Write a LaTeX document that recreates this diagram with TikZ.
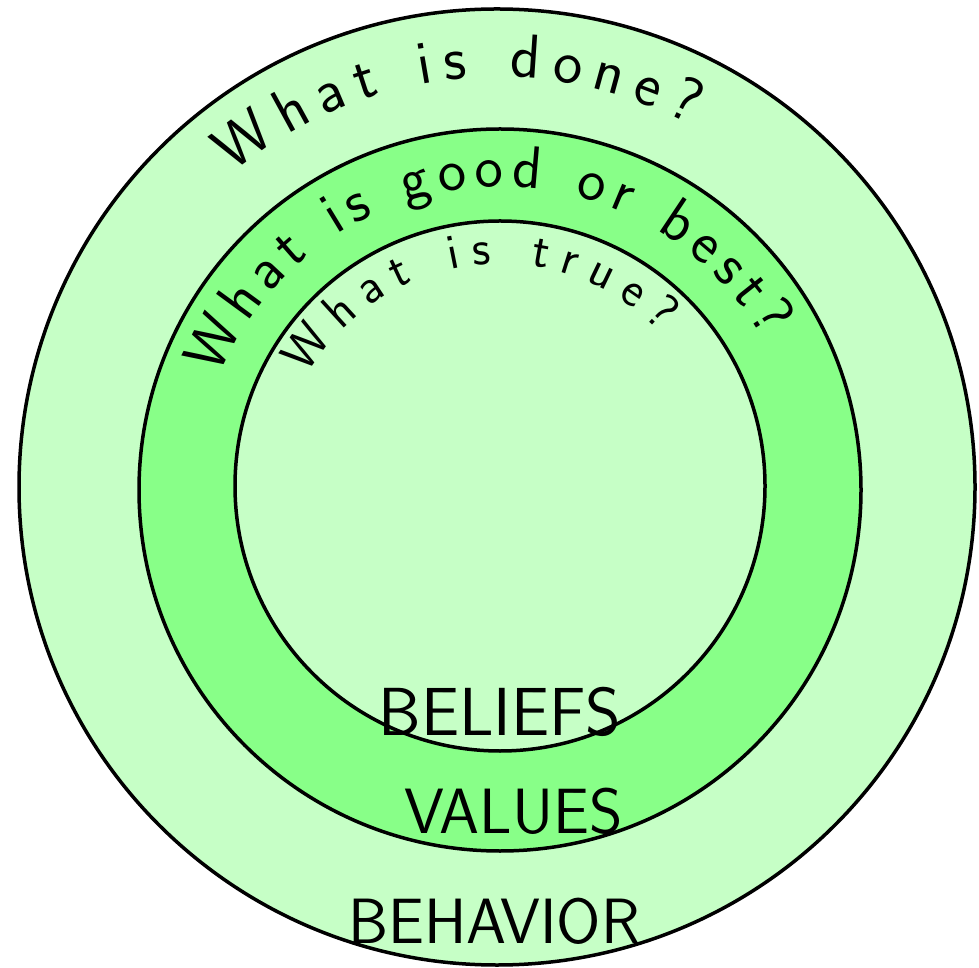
\documentclass[tikz,border=0pt]{standalone}
\usetikzlibrary{decorations.text}
\definecolor{lightg}{RGB}{198,255,198}
\definecolor{midg}{RGB}{136,255,136}
\tikzset{
  ring/.style={draw=black, line width=3.5pt},
  caps/.style={font=\sffamily\fontsize{66}{66}\selectfont, inner sep=0pt, anchor=base}
}
\begin{document}
\begin{tikzpicture}[x=1pt,y=1pt]
\useasboundingbox (0,0) rectangle (979,967);
\coordinate (co) at (497,480);
\coordinate (cm) at (500,477);
\coordinate (ci) at (500,481);
\fill[white] (0,0) rectangle (979,967);
\draw[ring, fill=lightg] (co) circle[radius=478];
\draw[ring, fill=midg] (cm) circle[radius=361];
\draw[ring, fill=lightg] (ci) circle[radius=265];
% curved texts
\path[decorate, decoration={text along path,
  text={|\sffamily\fontsize{62}{62}\selectfont|What is done?},
  text align={fit to path}}]
  (co) ++(130:410) arc[start angle=130, end angle=62, radius=410];
\path[decorate, decoration={text along path,
  text={|\sffamily\fontsize{60}{60}\selectfont|What is good or best?},
  text align={fit to path}}]
  (cm) ++(158:303) arc[start angle=158, end angle=30, radius=303];
\path[decorate, decoration={text along path,
  text={|\sffamily\fontsize{50}{50}\selectfont|What is true?},
  text align={fit to path}}]
  (ci) ++(150:222) arc[start angle=150, end angle=44, radius=222];
% straight labels
\node[caps, font=\sffamily\fontsize{68}{68}\selectfont] (beliefs) at (500,232) {BELIEFS};
\node[caps, font=\sffamily\fontsize{64}{64}\selectfont] (values) at (514,134) {VALUES};
\node[caps, font=\sffamily\fontsize{64}{64}\selectfont] (behavior) at (494,24) {BEHAVIOR};
\end{tikzpicture}
\end{document}
